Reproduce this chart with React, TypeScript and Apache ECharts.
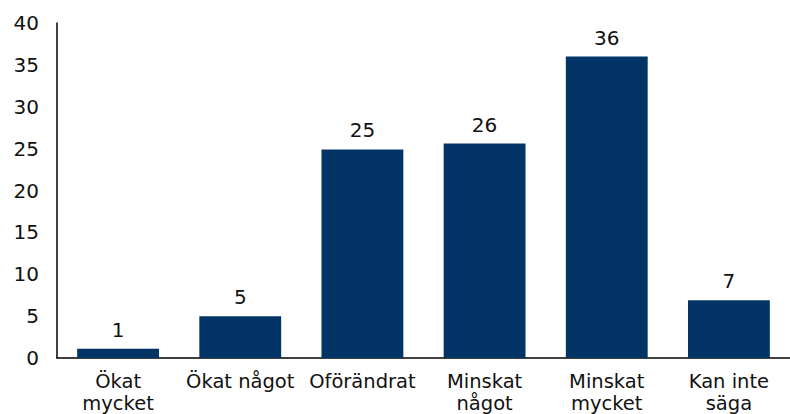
import React, { useEffect, useRef } from "react";
import * as echarts from "echarts";

const categories = ["Ökat\nmycket", "Ökat något", "Oförändrat", "Minskat\nnågot", "Minskat\nmycket", "Kan inte\nsäga"];
const values = [1.1, 5.0, 24.9, 25.6, 36.0, 6.9];
const valueLabels = ["1", "5", "25", "26", "36", "7"];
const yTicks = [0, 5, 10, 15, 20, 25, 30, 35, 40];

const FONT = "'DejaVu Sans', sans-serif";

export default function App() {
  const ref = useRef<HTMLDivElement>(null);
  useEffect(() => {
    if (!ref.current) return;
    const chart = echarts.init(ref.current, undefined, { renderer: "svg" });
    chart.setOption({
      animation: false,
      grid: { left: 57, width: 737, top: 23, bottom: 54, containLabel: false },
      xAxis: {
        type: "category",
        data: categories,
        axisLine: { show: true, lineStyle: { color: "#000", width: 1.5 } },
        axisTick: { show: false },
        axisLabel: {
          color: "#111",
          fontSize: 19.5,
          fontFamily: FONT,
          margin: 12,
          lineHeight: 22,
          interval: 0,
        },
      },
      yAxis: {
        type: "value",
        min: yTicks[0],
        max: yTicks[yTicks.length - 1],
        interval: 5,
        axisLine: { show: true, lineStyle: { color: "#000", width: 1.5 } },
        axisTick: { show: false },
        splitLine: { show: false },
        axisLabel: { color: "#111", fontSize: 20, fontFamily: FONT, margin: 18 },
      },
      series: [
        {
          type: "bar",
          data: values,
          barWidth: "67%",
          itemStyle: { color: "#023466" },
          label: {
            show: true,
            position: "top",
            distance: 9,
            color: "#111",
            fontSize: 20,
            fontFamily: FONT,
            formatter: (p: any) => valueLabels[p.dataIndex],
          },
        },
      ],
    });
    return () => chart.dispose();
  }, []);
  return <div ref={ref} style={{ width: 790, height: 414, position: "absolute", left: 0, top: 0 }} />;
}
